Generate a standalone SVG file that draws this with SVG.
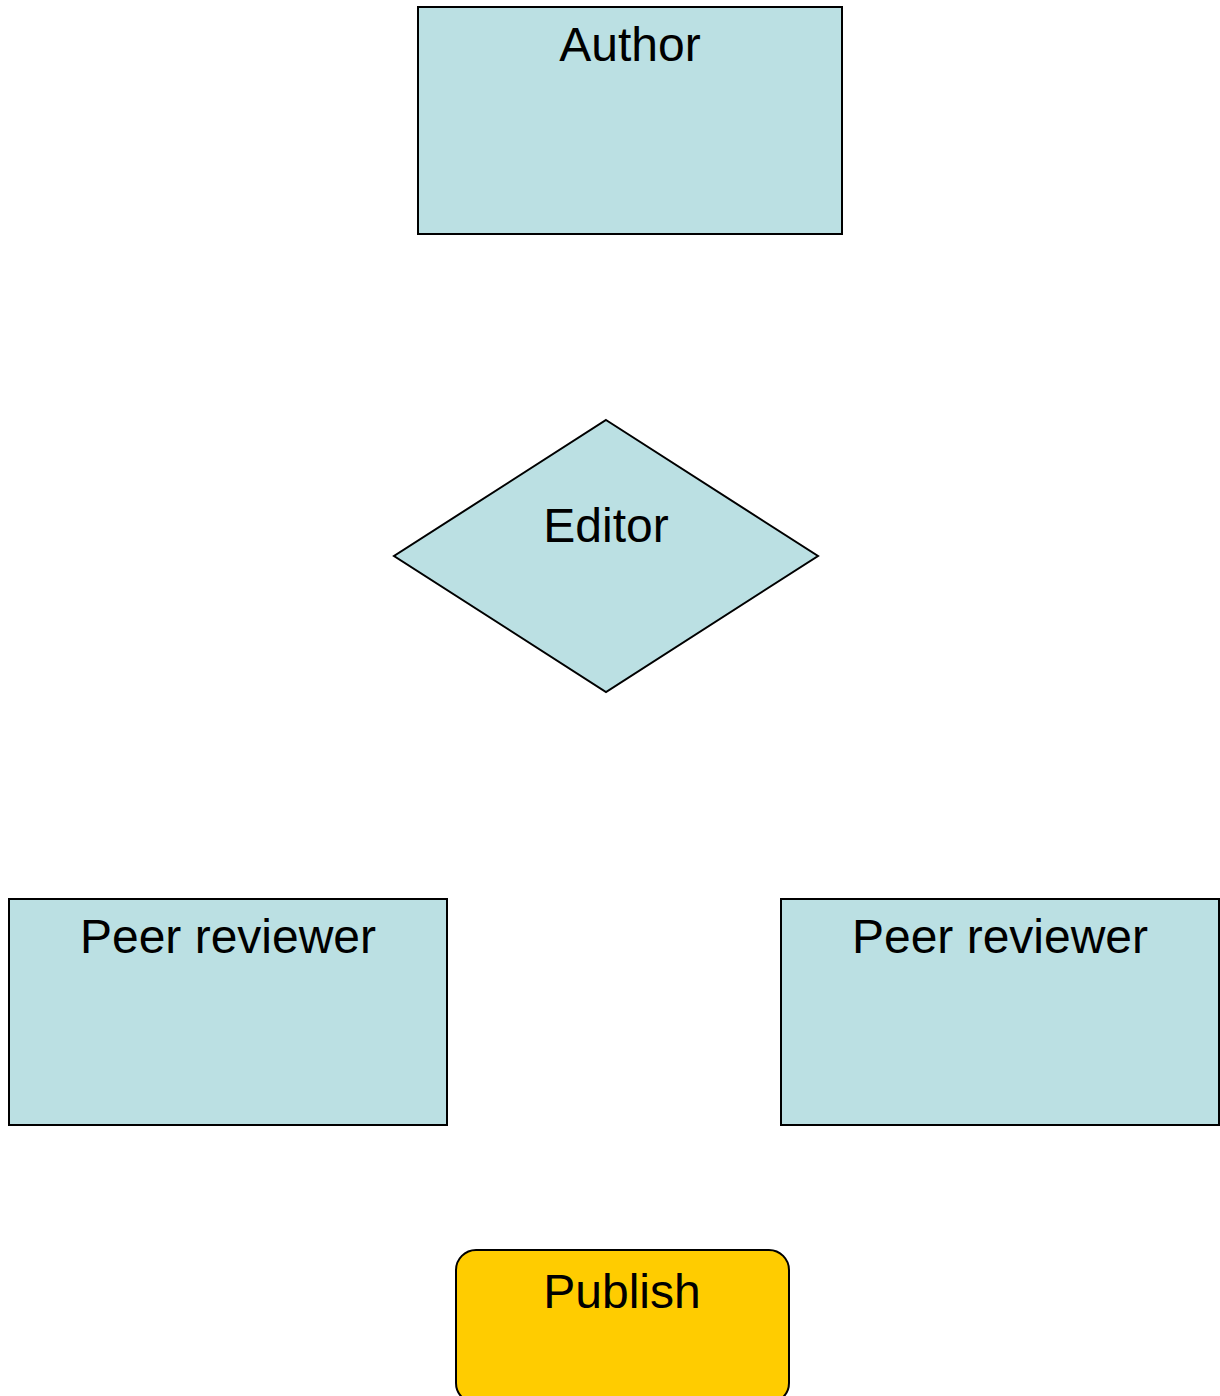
<svg xmlns="http://www.w3.org/2000/svg" width="1220" height="1396" viewBox="0 0 1220 1396">
  <style>
    .node { fill: #BBE0E3; stroke: #000; stroke-width: 2; }
    .pub { fill: #FFCC00; stroke: #000; stroke-width: 2; }
    .label { font-family: "Liberation Sans", Arial, sans-serif; font-size: 48px; fill: #000; text-anchor: middle; }
  </style>
  <rect width="1220" height="1396" fill="#fff"/>
  <g id="connectors"></g>
  <g id="author">
    <rect class="node" x="418" y="7" width="424" height="227"/>
    <text class="label" x="630" y="61">Author</text>
  </g>
  <g id="editor">
    <polygon class="node" points="606,420 818,556 606,692 394,556"/>
    <text class="label" x="606" y="542">Editor</text>
  </g>
  <g id="reviewer-left">
    <rect class="node" x="9" y="899" width="438" height="226"/>
    <text class="label" x="228" y="953">Peer reviewer</text>
  </g>
  <g id="reviewer-right">
    <rect class="node" x="781" y="899" width="438" height="226"/>
    <text class="label" x="1000" y="953">Peer reviewer</text>
  </g>
  <g id="publish">
    <rect class="pub" x="456" y="1250" width="333" height="153" rx="20" ry="20"/>
    <text class="label" x="622" y="1308">Publish</text>
  </g>
</svg>
